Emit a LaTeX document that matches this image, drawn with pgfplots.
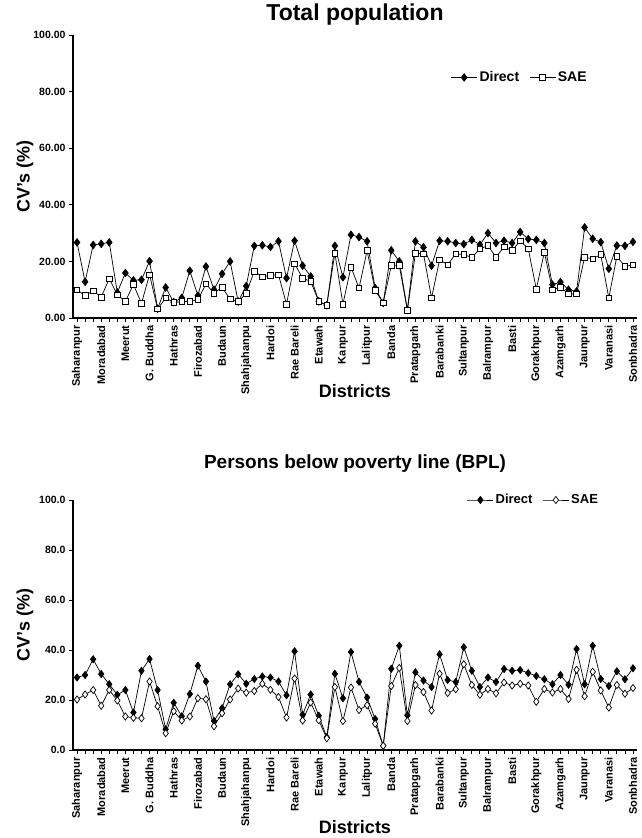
\documentclass[border=0pt]{standalone}
\usepackage{pgfplots}
\pgfplotsset{compat=1.18}
\usepackage{pgfplotstable}
\usepackage{fontspec}
\setmainfont{Liberation Sans}

% CV's by district (70 districts, in order)
\pgfplotstableread{
x d s
0 26.7 10.0
1 12.8 7.9
2 25.8 9.6
3 26.2 7.4
4 26.7 13.9
5 9.0 8.2
6 15.9 5.9
7 13.3 11.8
8 13.5 5.2
9 20.1 15.3
10 3.3 3.2
11 10.8 7.1
12 5.6 5.5
13 7.1 5.8
14 16.7 5.8
15 7.9 6.5
16 18.2 12.0
17 10.0 8.8
18 15.6 10.8
19 20.0 6.7
20 5.8 5.8
21 11.3 8.8
22 25.5 16.5
23 25.7 14.5
24 25.1 15.1
25 27.1 15.3
26 14.1 4.9
27 27.3 19.2
28 18.5 14.1
29 14.7 12.9
30 5.9 5.9
31 4.5 4.5
32 25.5 22.9
33 14.4 4.9
34 29.4 18.0
35 28.6 10.6
36 27.1 23.8
37 10.6 9.8
38 5.3 5.3
39 23.9 18.5
40 20.0 18.5
41 2.9 2.7
42 27.1 22.9
43 25.0 22.7
44 18.5 7.1
45 27.3 20.6
46 27.1 18.8
47 26.5 22.7
48 26.1 22.4
49 27.6 21.4
50 25.9 24.4
51 30.0 25.6
52 26.5 21.5
53 27.3 25.1
54 26.5 23.8
55 30.4 27.3
56 27.9 24.5
57 27.6 10.2
58 26.5 23.2
59 11.8 10.0
60 12.7 10.9
61 10.0 8.5
62 9.4 8.5
63 32.0 21.5
64 28.0 20.9
65 26.8 22.4
66 17.4 7.1
67 25.6 21.8
68 25.5 18.2
69 26.9 18.8
}\totpop

\pgfplotstableread{
x d s
0 29.0 20.2
1 30.0 22.2
2 36.3 24.0
3 30.4 17.7
4 26.3 24.0
5 22.1 19.8
6 24.0 13.4
7 15.0 12.9
8 31.7 12.7
9 36.4 27.4
10 24.0 17.5
11 8.3 6.7
12 18.9 15.5
13 13.5 11.8
14 22.4 13.4
15 33.7 20.7
16 27.4 20.3
17 11.6 9.5
18 16.7 14.7
19 26.3 20.2
20 30.3 24.6
21 26.5 22.9
22 28.4 23.6
23 29.4 26.5
24 29.0 24.1
25 27.4 21.2
26 21.9 13.0
27 39.5 28.6
28 14.1 11.8
29 22.2 19.0
30 13.7 11.9
31 5.1 4.7
32 30.5 25.2
33 20.7 11.6
34 39.2 25.0
35 27.3 16.0
36 21.0 17.9
37 12.4 10.5
38 1.7 1.7
39 32.5 25.6
40 41.7 32.8
41 13.9 11.6
42 31.1 26.0
43 27.8 23.2
44 25.2 15.8
45 38.3 30.5
46 28.0 22.8
47 27.2 24.3
48 41.1 34.3
49 31.7 26.0
50 25.2 22.1
51 29.0 24.4
52 27.2 22.7
53 32.4 27.0
54 31.7 25.8
55 32.0 26.5
56 30.8 25.8
57 29.6 19.3
58 28.3 24.4
59 26.3 23.0
60 30.0 24.4
61 26.1 20.4
62 40.4 32.1
63 26.3 21.5
64 41.7 31.3
65 28.4 23.8
66 25.6 17.0
67 31.5 26.0
68 28.3 22.5
69 32.7 24.8
}\bpl

\pgfplotsset{
  cvaxis/.style={
    scale only axis, width=564pt,
    xmin=-0.5, xmax=69.5, ymin=0, ymax=100,
    axis x line*=bottom, axis y line*=left,
    x axis line style={line width=1.6pt, -},
    y axis line style={line width=1.2pt, -},
    xtick={0,3,...,69}, minor xtick={0,...,69},
    xticklabels={Saharanpur,Moradabad,Meerut,G. Buddha,Hathras,Firozabad,Budaun,Shahjahanpu,Hardoi,Rae Bareli,Etawah,Kanpur,Lalitpur,Banda,Pratapgarh,Barabanki,Sultanpur,Balrampur,Basti,Gorakhpur,Azamgarh,Jaunpur,Varanasi,Sonbhadra},
    xticklabel style={rotate=90, anchor=east, font=\bfseries\fontsize{11}{11}\selectfont},
    yticklabel style={font=\bfseries\fontsize{10.5}{10.5}\selectfont},
    tick align=outside, major tick length=4pt, minor tick length=4pt,
    tick style={black, line width=0.8pt},
    ytick={0,20,...,100},
    /pgf/number format/assume math mode=true,
    ylabel={CV's (\%)},
    ylabel style={at={(axis description cs:-0.064,0.5)}, anchor=south, font=\bfseries\fontsize{18}{18}\selectfont},
    xlabel={Districts},
    xlabel style={at={(axis description cs:0.5,0)}, anchor=center, font=\bfseries\fontsize{18}{18}\selectfont},
    legend style={draw=none, fill=none, legend columns=2,
      /tikz/every even column/.append style={column sep=8pt}},
    legend image code/.code={\draw[mark repeat=2, mark phase=2, #1] plot coordinates {(0pt,0pt) (13pt,0pt) (26pt,0pt)};},
    every axis plot/.append style={black, line width=0.7pt},
  }
}

\begin{document}
\begin{tikzpicture}
\useasboundingbox (-73pt,-520pt) rectangle (569pt,318pt);

\begin{axis}[cvaxis, height=283pt, at={(0pt,0pt)}, anchor=south west,
  yticklabel style={/pgf/number format/.cd, fixed, fixed zerofill, precision=2},
  xlabel style={yshift=-73pt},
  title={Total population},
  title style={font=\bfseries\fontsize{23}{23}\selectfont, yshift=0pt},
  legend style={at={(0.92,0.85)}, anchor=east, font=\bfseries\fontsize{14}{14}\selectfont}]
  \addplot[mark=diamond*, mark size=3.8pt, mark options={fill=black, solid}] table[x=x, y=d] {\totpop};
  \addplot[mark=square*, mark size=2.8pt, mark options={fill=white, solid}] table[x=x, y=s] {\totpop};
  \legend{Direct, SAE}
\end{axis}

\begin{axis}[cvaxis, height=250pt, at={(0pt,-432pt)}, anchor=south west,
  yticklabel style={/pgf/number format/.cd, fixed, fixed zerofill, precision=1},
  xlabel style={yshift=-77pt},
  title={Persons below poverty line (BPL)},
  title style={font=\bfseries\fontsize{19}{19}\selectfont, yshift=18pt},
  legend style={at={(0.94,1.0)}, anchor=east, font=\bfseries\fontsize{13}{13}\selectfont}]
  \addplot[mark=diamond*, mark size=3.6pt, mark options={fill=black, solid}] table[x=x, y=d] {\bpl};
  \addplot[mark=diamond*, mark size=3.6pt, mark options={fill=white, solid}] table[x=x, y=s] {\bpl};
  \legend{Direct, SAE}
\end{axis}
\end{tikzpicture}
\end{document}
